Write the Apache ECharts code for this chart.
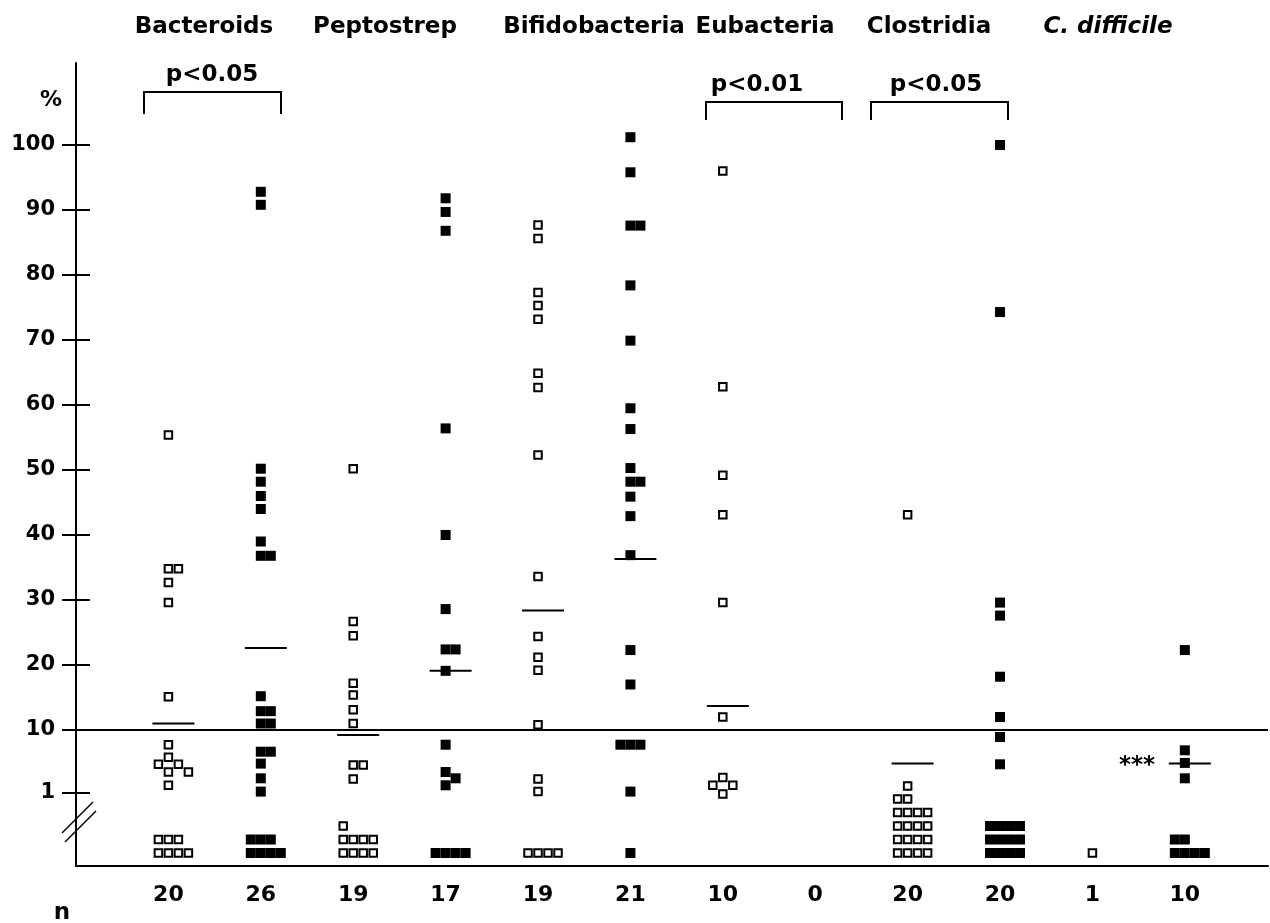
<!DOCTYPE html>
<html>
<head>
<meta charset="utf-8">
<script src="https://cdn.jsdelivr.net/npm/echarts@6.0.0/dist/echarts.min.js"></script>
<style>
html,body{margin:0;padding:0;background:#fff;}
#chart{width:1270px;height:923px;}
</style>
</head>
<body>
<div id="chart"></div>
<script>
// ---------------- DATA (percent) ----------------
const groupTitles = ['Bacteroids', 'Peptostrep', 'Bifidobacteria', 'Eubacteria', 'Clostridia', 'C. difficile'];
// open squares = first column of each pair, filled squares = second column; 0 = none detected
const bacteroidsOpen   = [55.4, 34.8, 34.8, 32.7, 29.6, 15.1, 7.9, 6.1, 5.1, 5.1, 4.0, 4.0, 2.1, 0, 0, 0, 0, 0, 0, 0];
const bacteroidsFilled = [92.8, 90.8, 50.2, 48.2, 46.0, 44.0, 39.0, 36.8, 36.8, 15.2, 12.9, 12.9, 11.0, 11.0, 6.9, 6.9, 5.2, 3.1, 1.2, 0, 0, 0, 0, 0, 0, 0];
const peptoOpen        = [50.2, 26.7, 24.5, 17.2, 15.4, 13.1, 11.0, 5.0, 5.0, 3.0, 0, 0, 0, 0, 0, 0, 0, 0, 0];
const peptoFilled      = [91.8, 89.7, 86.8, 56.4, 40.0, 28.6, 22.4, 22.4, 19.1, 7.9, 4.0, 3.1, 2.1, 0, 0, 0, 0];
const bifidoOpen       = [87.7, 85.6, 77.3, 75.3, 73.2, 64.9, 62.7, 52.3, 33.6, 24.4, 21.2, 19.2, 10.8, 3.0, 1.2, 0, 0, 0, 0];
const bifidoFilled     = [101.2, 95.8, 87.6, 87.6, 78.4, 69.9, 59.5, 56.3, 50.3, 48.2, 48.2, 45.9, 42.9, 36.9, 22.3, 17.0, 7.9, 7.9, 7.9, 1.2, 0];
const eubactOpen       = [96.0, 62.8, 49.2, 43.1, 29.6, 12.0, 3.2, 2.1, 2.1, 0.85];
const eubactFilled     = [];
const clostOpen        = [43.1, 2.0, 0, 0, 0, 0, 0, 0, 0, 0, 0, 0, 0, 0, 0, 0, 0, 0, 0, 0];
const clostFilled      = [100.0, 74.3, 29.6, 27.6, 18.2, 12.0, 9.0, 5.1, 0, 0, 0, 0, 0, 0, 0, 0, 0, 0, 0, 0];
const cdiffOpen        = [0];
const cdiffFilled      = [22.3, 7.1, 5.3, 3.1, 0, 0, 0, 0, 0, 0];
const medianValues     = [11.0, 22.6, 9.3, 19.1, 28.4, 36.3, 13.7, null, 5.2, null, null, 5.2];
const yTickLabels      = [1, 10, 20, 30, 40, 50, 60, 70, 80, 90, 100];
const pValueLabels     = ['p<0.05', 'p<0.01', 'p<0.05'];
const significanceMark = '***';

// ---------------- LAYOUT ----------------
const FONT = '"DejaVu Sans", sans-serif';
const GRID_LEFT = 76, GRID_RIGHT = 2, GRID_TOP = 63, GRID_BOTTOM = 57;
const X_MAX = 12.9, Y_MAX = 803;
const PX_PER_X = (1270 - GRID_LEFT - GRID_RIGHT) / X_MAX;

// broken percent axis: linear 10-100, linear 1-10 (expanded), zero rows below the break
function toAxis(v) {
  if (v >= 10) return 136 + (v - 10) * 6.5;
  return 73 + (v - 1) * 7;
}

const columns = [bacteroidsOpen, bacteroidsFilled, peptoOpen, peptoFilled, bifidoOpen, bifidoFilled,
                 eubactOpen, eubactFilled, clostOpen, clostFilled, cdiffOpen, cdiffFilled];

function layoutColumn(values, col) {
  const pts = [];
  const placed = [];
  const nZero = values.filter(v => v === 0).length;
  const zeroOffsets = [-10, 0, 10, 20];
  let zi = 0;
  values.forEach(v => {
    if (v === 0) {
      const row = Math.floor(zi / 4), pos = zi % 4;
      const dx = nZero === 1 ? 0 : zeroOffsets[pos];
      pts.push([col + dx / PX_PER_X, 13 + row * 13.5, v]);
      zi++;
      return;
    }
    const t = toAxis(v);
    const cands = [0, 10, -10, 20, -20, 30, -30];
    let dx = 0;
    for (const c of cands) {
      if (!placed.some(p => Math.abs(p.dx - c) < 9 && Math.abs(p.t - t) < 9)) { dx = c; break; }
    }
    placed.push({ dx, t });
    pts.push([col + dx / PX_PER_X, t, v]);
  });
  return pts;
}

const openData = [], filledData = [];
columns.forEach((vals, i) => {
  const pts = layoutColumn(vals, i + 1);
  (i % 2 === 0 ? openData : filledData).push(...pts);
});
const medianData = [];
medianValues.forEach((m, i) => {
  if (m !== null) medianData.push([i + 1 + 5 / PX_PER_X, toAxis(m)]);
});

const tickPositions = yTickLabels.map(toAxis);
function yLabel(val) {
  const idx = tickPositions.findIndex(p => Math.abs(p - val) < 0.5);
  return idx >= 0 ? String(yTickLabels[idx]) : '';
}

// ---------------- CHART ----------------
const chart = echarts.init(document.getElementById('chart'), null, { renderer: 'canvas' });
const textStyle = (size, extra) => Object.assign({ fontSize: size, fontWeight: 'bold', fontFamily: FONT, fill: '#000' }, extra || {});

const titleX = [204, 385, 594, 765, 929, 1108];
const graphics = [];
groupTitles.forEach((t, i) => {
  graphics.push({ type: 'text', style: Object.assign({ text: t, x: titleX[i], y: 27, align: 'center', verticalAlign: 'middle' },
    textStyle(23, i === 5 ? { fontStyle: 'italic' } : {})) });
});
const brackets = [
  { x1: 144, x2: 281, top: 92, bottom: 114, tx: 212, ty: 75 },
  { x1: 706, x2: 842, top: 102, bottom: 120, tx: 757, ty: 85 },
  { x1: 871, x2: 1008, top: 102, bottom: 120, tx: 936, ty: 85 }
];
brackets.forEach((b, i) => {
  graphics.push({ type: 'polyline', shape: { points: [[b.x1, b.bottom], [b.x1, b.top], [b.x2, b.top], [b.x2, b.bottom]] },
    style: { stroke: '#000', lineWidth: 2, fill: null } });
  graphics.push({ type: 'text', style: Object.assign({ text: pValueLabels[i], x: b.tx, y: b.ty, align: 'center', verticalAlign: 'middle' }, textStyle(23)) });
});
graphics.push({ type: 'text', style: Object.assign({ text: '%', x: 51, y: 100, align: 'center', verticalAlign: 'middle' }, textStyle(22)) });
graphics.push({ type: 'text', style: Object.assign({ text: 'n', x: 62, y: 913, align: 'center', verticalAlign: 'middle' }, textStyle(23)) });
graphics.push({ type: 'text', style: Object.assign({ text: significanceMark, x: 1137, y: 766, align: 'center', verticalAlign: 'middle' }, textStyle(23)) });
graphics.push({ type: 'line', shape: { x1: 62, y1: 833, x2: 93, y2: 802 }, style: { stroke: '#000', lineWidth: 1.5 } });
graphics.push({ type: 'line', shape: { x1: 65, y1: 842, x2: 96, y2: 811 }, style: { stroke: '#000', lineWidth: 1.5 } });

chart.setOption({
  animation: false,
  backgroundColor: '#fff',
  grid: { left: GRID_LEFT, right: GRID_RIGHT, top: GRID_TOP, bottom: GRID_BOTTOM, containLabel: false },
  xAxis: {
    type: 'value', min: 0, max: X_MAX,
    axisLine: { show: true, lineStyle: { color: '#000', width: 2 } },
    axisTick: { show: false },
    splitLine: { show: false },
    axisLabel: {
      customValues: [1, 2, 3, 4, 5, 6, 7, 8, 9, 10, 11, 12],
      formatter: v => String(columns[Math.round(v) - 1].length),
      color: '#000', fontSize: 22, fontWeight: 'bold', fontFamily: FONT, margin: 18
    }
  },
  yAxis: [{
    type: 'value', min: 0, max: Y_MAX,
    axisLine: { show: true, lineStyle: { color: '#000', width: 2 } },
    axisTick: { show: true, customValues: tickPositions, length: 14, lineStyle: { color: '#000', width: 2 } },
    axisLabel: { customValues: tickPositions, formatter: yLabel, color: '#000', fontSize: 21, fontWeight: 'bold', fontFamily: FONT, margin: 21 },
    splitLine: { show: false }
  }, {
    type: 'value', min: 0, max: Y_MAX, position: 'left',
    axisLine: { show: false },
    axisTick: { show: true, inside: true, customValues: tickPositions, length: 14, lineStyle: { color: '#000', width: 2 } },
    axisLabel: { show: false },
    splitLine: { show: false }
  }],
  graphic: graphics,
  series: [{
    name: 'open', type: 'scatter', data: openData, yAxisIndex: 0,
    symbol: 'rect', symbolSize: 7.5,
    itemStyle: { color: '#fff', borderColor: '#000', borderWidth: 2, opacity: 1 },
    markLine: {
      silent: true, symbol: 'none', label: { show: false },
      lineStyle: { color: '#000', width: 2, type: 'solid' },
      data: [{ yAxis: toAxis(10) }]
    },
    z: 3
  }, {
    name: 'filled', type: 'scatter', data: filledData, yAxisIndex: 0,
    symbol: 'rect', symbolSize: 10,
    itemStyle: { color: '#000', opacity: 1 },
    z: 3
  }, {
    name: 'median', type: 'scatter', data: medianData, yAxisIndex: 0,
    symbol: 'rect', symbolSize: [42, 2],
    itemStyle: { color: '#000', opacity: 1 },
    z: 4
  }]
});
</script>
</body>
</html>
